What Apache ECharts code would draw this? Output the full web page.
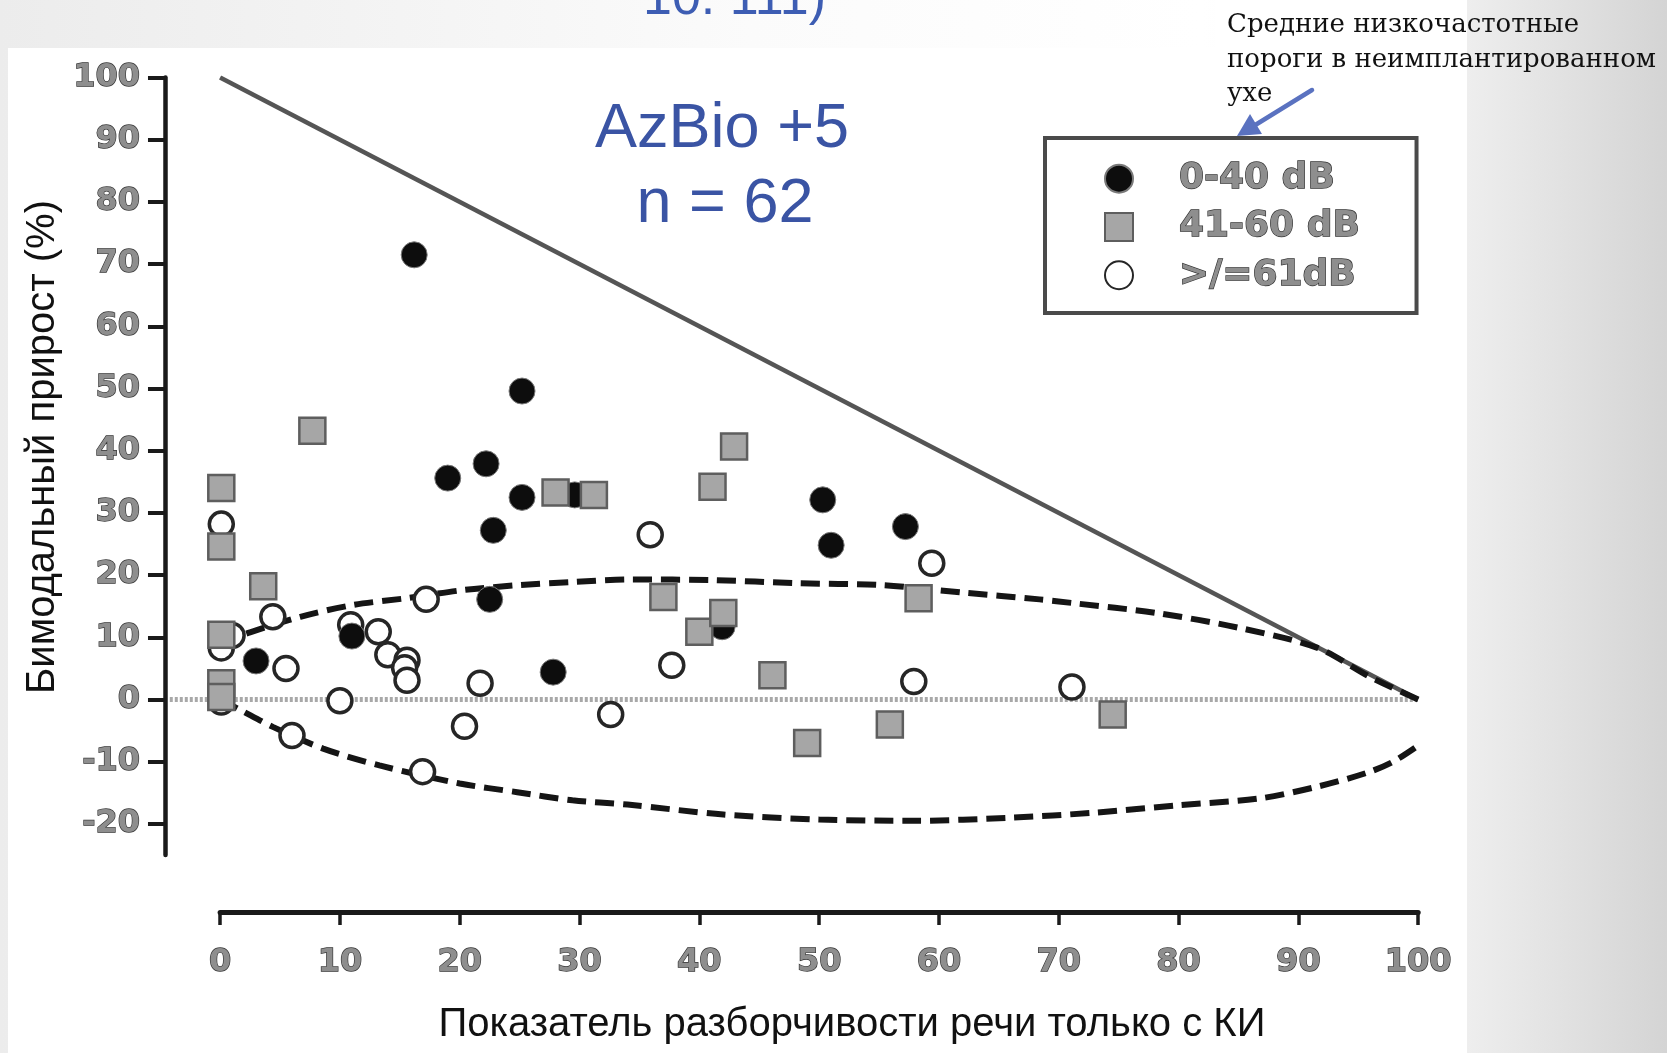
<!DOCTYPE html>
<html>
<head>
<meta charset="utf-8">
<script src="https://cdn.jsdelivr.net/npm/echarts@6/dist/echarts.min.js"></script>
<style>
html,body{margin:0;padding:0;width:1667px;height:1053px;overflow:hidden;background:#fff}
#c{width:1667px;height:1053px}
</style>
</head>
<body>
<div id="c"></div>
<script>
// ---------------- DATA ----------------
const xTickLabels = ['0','10','20','30','40','50','60','70','80','90','100'];
const yTickLabels = ['-20','-10','0','10','20','30','40','50','60','70','80','90','100'];
const seriesNames = ['0-40 dB', '41-60 dB', '>/=61dB'];

// 0-40 dB (black filled circles)
const low040 = [
  [16.2,71.5],[25.2,49.6],[19.0,35.6],[22.2,37.9],[25.2,32.5],[22.8,27.2],
  [29.6,32.9],[50.3,32.1],[51.0,24.8],[57.2,27.8],[22.5,16.1],[3.0,6.2],
  [11.0,10.2],[27.8,4.4],[41.9,11.7]
];
// 41-60 dB (grey squares)
const mid4160 = [
  [7.7,43.2],[0.1,34.0],[0.1,24.6],[3.6,18.2],[0.1,10.4],[0.1,2.6],[0.1,0.4],
  [28.0,33.3],[31.2,32.9],[41.1,34.2],[42.9,40.7],[37.0,16.5],[40.0,10.9],
  [42.0,13.9],[46.1,3.9],[49.0,-7.0],[55.9,-4.0],[58.3,16.3],[74.5,-2.4]
];
// >/=61 dB (open circles)
const high61 = [
  [0.1,28.2],[0.1,8.3],[1.0,10.3],[0.1,1.5],[0.1,-0.4],[4.4,13.3],[5.5,5.0],
  [6.0,-5.8],[10.0,-0.2],[10.9,12.0],[13.2,10.9],[14.0,7.2],[15.6,6.3],
  [15.4,5.1],[15.6,3.1],[17.2,16.1],[16.9,-11.6],[20.4,-4.3],[21.7,2.6],
  [32.6,-2.4],[35.9,26.5],[37.7,5.5],[57.9,2.9],[59.4,21.9],[71.1,2.0]
];
// maximum possible benefit line
const maxLine = [[0,100],[100,0]];
// 95% limits (dashed curves)
const upperLimit = [
  [0,9.0],[2.5,10.8],[6.7,13.3],[11.1,15.2],[15.6,16.3],[20.3,17.6],[25,18.4],
  [29.5,18.9],[34.3,19.3],[41.2,19.2],[48.1,18.7],[55.1,18.4],[62,17.2],
  [68.4,16.1],[71.2,15.5],[78.2,13.9],[85.1,11.5],[91.6,8.3],[96,3.6],[100,0]
];
const lowerLimit = [
  [0,0],[1.7,-1.7],[4.4,-4.4],[8.6,-7.9],[13.3,-10.6],[20,-13.5],[24.8,-14.9],
  [29.4,-16.2],[34,-16.9],[42,-18.5],[50,-19.3],[58,-19.5],[66,-19.0],
  [73,-18.2],[80,-17.0],[86.8,-15.9],[91.6,-14.0],[95.7,-11.8],[97.9,-10.0],[100,-7.4]
];
// zero reference line
const zeroLine = [[-4.2,0],[100,0]];

// ---------------- LAYOUT ----------------
const PX0 = 220.1, PX100 = 1418.2;       // pixel of x=0, x=100
const PY100 = 77.6, PY0 = 699.5;         // pixel of y=100, y=0
const UX = (PX100 - PX0) / 100;
const UY = (PY0 - PY100) / 100;
const DATA_XMIN = -4.6, DATA_YMIN = -25;
const xMin = +xTickLabels[0], xMax = +xTickLabels[xTickLabels.length-1];
const yMin = +yTickLabels[0], yMax = +yTickLabels[yTickLabels.length-1];
const xStep = +xTickLabels[1] - +xTickLabels[0];
const yStep = +yTickLabels[1] - +yTickLabels[0];

const gridLeft = PX0 + DATA_XMIN * UX;
const gridBottomPx = PY0 - DATA_YMIN * UY;
const tickBottomPx = PY0 - yMin * UY;
const xAxisPx = 912;

const tickFont = {
  color:'#8e8e8e', fontFamily:'DejaVu Sans', fontWeight:'bold', fontSize:32,
  textBorderColor:'#333333', textBorderWidth:1.3
};

const chart = echarts.init(document.getElementById('c'), null, {renderer:'canvas'});

const option = {
  animation:false,
  backgroundColor:'transparent',
  grid:[
    {left:gridLeft, top:PY100, width:PX100-gridLeft, height:gridBottomPx-PY100, outerBoundsMode:'none', containLabel:false},
    {left:gridLeft, top:PY100, width:100, height:tickBottomPx-PY100, outerBoundsMode:'none', containLabel:false},
    {left:PX0, top:xAxisPx-60, width:PX100-PX0, height:60, outerBoundsMode:'none', containLabel:false}
  ],
  xAxis:[
    {gridIndex:0, type:'value', min:DATA_XMIN, max:xMax, show:false},
    {gridIndex:1, type:'value', min:0, max:1, show:false},
    {gridIndex:2, type:'value', min:xMin, max:xMax, interval:xStep, position:'bottom',
     axisLine:{show:true, onZero:false, lineStyle:{color:'#1a1a1a', width:5}},
     axisTick:{show:true, length:13, lineStyle:{color:'#1a1a1a', width:3.5}},
     axisLabel:Object.assign({margin:35, showMinLabel:true, showMaxLabel:true, hideOverlap:false,
       formatter:(v)=>xTickLabels[Math.round((v - xMin)/xStep)] || ''}, tickFont),
     splitLine:{show:false}}
  ],
  yAxis:[
    {gridIndex:0, type:'value', min:DATA_YMIN, max:yMax, position:'left',
     axisLine:{show:true, onZero:false, lineStyle:{color:'#1a1a1a', width:4.5}},
     axisTick:{show:false}, axisLabel:{show:false}, splitLine:{show:false}},
    {gridIndex:1, type:'value', min:yMin, max:yMax, interval:yStep, position:'left',
     axisLine:{show:false, onZero:false},
     axisTick:{show:true, length:17, lineStyle:{color:'#1a1a1a', width:4}},
     axisLabel:Object.assign({margin:25, showMinLabel:true, showMaxLabel:true, hideOverlap:false,
       formatter:(v)=>yTickLabels[Math.round((v - yMin)/yStep)] || ''}, tickFont),
     splitLine:{show:false}},
    {gridIndex:2, type:'value', show:false}
  ],
  legend:{
    orient:'vertical', left:1045, top:138,
    padding:[22,56,19,59], itemGap:11, itemWidth:28, itemHeight:28,
    borderColor:'#4a4a4a', borderWidth:4, backgroundColor:'#ffffff',
    selectedMode:false,
    textStyle:{fontSize:36, fontFamily:'DejaVu Sans', fontWeight:'bold', color:'#8e8e8e',
      textBorderColor:'#333333', textBorderWidth:1.3, padding:[0,0,0,41]},
    data:seriesNames
  },
  series:[
    {type:'line', name:'zero', xAxisIndex:0, yAxisIndex:0, data:zeroLine, showSymbol:false, silent:true, z:1,
     lineStyle:{color:'#a8a8a8', width:5, type:[3,2]}},
    {type:'line', name:'max', xAxisIndex:0, yAxisIndex:0, data:maxLine, showSymbol:false, silent:true, z:1,
     lineStyle:{color:'#555555', width:4.5}},
    {type:'line', name:'upper', xAxisIndex:0, yAxisIndex:0, data:upperLimit, showSymbol:false, silent:true, z:1,
     smooth:0.3, lineStyle:{color:'#151515', width:6, type:[19,9]}},
    {type:'line', name:'lower', xAxisIndex:0, yAxisIndex:0, data:lowerLimit, showSymbol:false, silent:true, z:1,
     smooth:0.3, lineStyle:{color:'#151515', width:6, type:[19,9]}},
    {type:'scatter', name:seriesNames[2], xAxisIndex:0, yAxisIndex:0, data:high61, z:3,
     symbol:'circle', symbolSize:24,
     itemStyle:{color:'#ffffff', borderColor:'#262626', borderWidth:3.5, opacity:1}},
    {type:'scatter', name:seriesNames[0], xAxisIndex:0, yAxisIndex:0, data:low040, z:4,
     symbol:'circle', symbolSize:26,
     itemStyle:{color:'#0d0d0d', borderColor:'#7a7a7a', borderWidth:1, opacity:1}},
    {type:'scatter', name:seriesNames[1], xAxisIndex:0, yAxisIndex:0, data:mid4160, z:5,
     symbol:'rect', symbolSize:26,
     itemStyle:{color:'#a6a6a6', borderColor:'#5e5e5e', borderWidth:2.5, opacity:1}}
  ],
  graphic:[
    // slide background
    {type:'rect', z:-100, silent:true, shape:{x:0,y:0,width:1667,height:1053},
     style:{fill:new echarts.graphic.LinearGradient(0,0,1,0,[
       {offset:0,color:'#ececec'},{offset:0.45,color:'#fbfbfb'},{offset:0.72,color:'#ffffff'},{offset:1,color:'#f2f2f2'}])}},
    {type:'rect', z:-99, silent:true, shape:{x:1467,y:0,width:200,height:1053},
     style:{fill:new echarts.graphic.LinearGradient(0,0,1,0,[
       {offset:0,color:'#eeeeee'},{offset:1,color:'#d4d4d4'}])}},
    {type:'rect', z:-98, silent:true, shape:{x:8,y:48,width:1459,height:1005}, style:{fill:'#ffffff'}},
    {type:'rect', z:-98, silent:true, shape:{x:1215,y:0,width:252,height:140}, style:{fill:'#ffffff'}},
    // partial heading at top (cut off)
    {type:'text', z:100, silent:true, x:643, y:0,
     style:{text:'10. 111)', fontSize:52, fontFamily:'Liberation Sans', fill:'#3d5db3', align:'left', verticalAlign:'middle'}},
    // chart title
    {type:'text', z:100, silent:true, x:722, y:130,
     style:{text:'AzBio +5', fontSize:63, fontFamily:'Liberation Sans', fill:'#3a54a4', align:'center', verticalAlign:'middle'}},
    {type:'text', z:100, silent:true, x:725, y:205,
     style:{text:'n = 62', fontSize:63, fontFamily:'Liberation Sans', fill:'#3a54a4', align:'center', verticalAlign:'middle'}},
    // axis titles
    {type:'text', z:100, silent:true, x:852, y:1025,
     style:{text:'Показатель разборчивости речи только с КИ', fontSize:40, fontFamily:'Liberation Sans', fill:'#111111', align:'center', verticalAlign:'middle'}},
    {type:'text', z:100, silent:true, x:43, y:447, rotation:Math.PI/2,
     style:{text:'Бимодальный прирост (%)', fontSize:40, fontFamily:'Liberation Sans', fill:'#111111', align:'center', verticalAlign:'middle'}},
    // annotation
    {type:'text', z:100, silent:true, x:1227, y:25,
     style:{text:'Средние низкочастотные', fontSize:26, fontFamily:'DejaVu Serif', fill:'#111111', align:'left', verticalAlign:'middle'}},
    {type:'text', z:100, silent:true, x:1227, y:60,
     style:{text:'пороги в неимплантированном', fontSize:26, fontFamily:'DejaVu Serif', fill:'#111111', align:'left', verticalAlign:'middle'}},
    {type:'text', z:100, silent:true, x:1227, y:94,
     style:{text:'ухе', fontSize:26, fontFamily:'DejaVu Serif', fill:'#111111', align:'left', verticalAlign:'middle'}},
    // arrow
    {type:'line', z:100, silent:true, shape:{x1:1312,y1:90,x2:1252,y2:127},
     style:{stroke:'#5a72c0', lineWidth:4.5, lineCap:'round'}},
    {type:'polygon', z:100, silent:true, shape:{points:[[1237,136],[1262,134],[1250,114]]},
     style:{fill:'#5a72c0'}}
  ]
};
chart.setOption(option);
</script>
</body>
</html>
